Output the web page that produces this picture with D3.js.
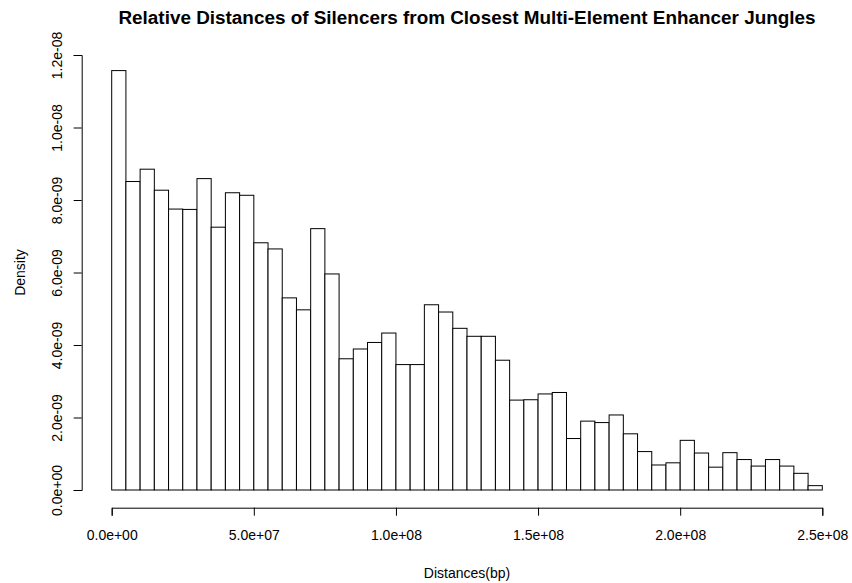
<!DOCTYPE html>
<html>
<head>
<meta charset="utf-8">
<script src="https://cdn.jsdelivr.net/npm/d3@7"></script>
<style>
  body { margin: 0; background: #fff; }
  svg { display: block; font-family: "Liberation Sans", Arial, Helvetica, sans-serif; }
</style>
</head>
<body>
<script>
// histogram of distances, 5e6 bp bins, density values
const binWidth = 5e6;
const density = [
  11.57, 8.51, 8.85, 8.27, 7.75, 7.74, 8.59, 7.25, 8.20, 8.13,
  6.82, 6.65, 5.30, 4.97, 7.21, 5.96, 3.62, 3.89, 4.07, 4.33,
  3.46, 3.46, 5.11, 4.91, 4.46, 4.24, 4.24, 3.58, 2.48, 2.49,
  2.65, 2.69, 1.42, 1.90, 1.86, 2.07, 1.55, 1.06, 0.69, 0.75,
  1.37, 1.02, 0.63, 1.03, 0.84, 0.66, 0.84, 0.66, 0.46, 0.12
].map(d => d * 1e-9);

const xTicks = [0, 5e7, 1e8, 1.5e8, 2e8, 2.5e8];
const xTickLabels = ['0.0e+00', '5.0e+07', '1.0e+08', '1.5e+08', '2.0e+08', '2.5e+08'];
const yTicks = [0, 2e-9, 4e-9, 6e-9, 8e-9, 1e-8, 1.2e-8];
const yTickLabels = ['0.0e+00', '2.0e-09', '4.0e-09', '6.0e-09', '8.0e-09', '1.0e-08', '1.2e-08'];

const title = 'Relative Distances of Silencers from Closest Multi-Element Enhancer Jungles';
const xLabel = 'Distances(bp)';
const yLabel = 'Density';

const svgWidth = 852;
const svgHeight = 583;

const svg = d3.select('body')
  .append('svg')
  .attr('width', svgWidth)
  .attr('height', svgHeight);

const x = d3.scaleLinear().domain([0, 2.5e8]).range([111.7, 822.3]);
const y = d3.scaleLinear().domain([0, 1.2e-8]).range([490, 55]);

// bars
svg.append('g')
  .selectAll('rect')
  .data(density)
  .join('rect')
  .attr('x', (d, i) => x(i * binWidth))
  .attr('y', d => y(d))
  .attr('width', (d, i) => x((i + 1) * binWidth) - x(i * binWidth))
  .attr('height', d => y(0) - y(d))
  .attr('fill', '#fff')
  .attr('stroke', '#000')
  .attr('stroke-width', 1);

// x axis
const xAxis = svg.append('g')
  .attr('transform', 'translate(0, 507.7)')
  .call(d3.axisBottom(x)
    .tickValues(xTicks)
    .tickFormat((d, i) => xTickLabels[i])
    .tickSizeOuter(0)
    .tickSize(8));
xAxis.selectAll('text')
  .attr('y', 32.3)
  .attr('dy', 0)
  .attr('fill', '#000')
  .style('font-size', '14px');

// y axis, labels parallel to the axis like R
const yAxis = svg.append('g')
  .attr('transform', 'translate(81.7, 0)')
  .call(d3.axisLeft(y)
    .tickValues(yTicks)
    .tickFormat((d, i) => yTickLabels[i])
    .tickSizeOuter(0)
    .tickSize(8));
yAxis.selectAll('text')
  .attr('x', null)
  .attr('dy', 0)
  .attr('transform', 'translate(-20, 0) rotate(-90)')
  .attr('text-anchor', 'middle')
  .attr('fill', '#000')
  .style('font-size', '14px');

svg.selectAll('.domain, .tick line').attr('stroke', '#000');

// titles
svg.append('text')
  .attr('x', 467)
  .attr('y', 24)
  .attr('text-anchor', 'middle')
  .style('font-size', '18.9px')
  .style('font-weight', 'bold')
  .text(title);

svg.append('text')
  .attr('x', 467)
  .attr('y', 578)
  .attr('text-anchor', 'middle')
  .style('font-size', '14px')
  .text(xLabel);

svg.append('text')
  .attr('transform', `translate(25, ${(y(0) + y(1.2e-8)) / 2}) rotate(-90)`)
  .attr('text-anchor', 'middle')
  .style('font-size', '14px')
  .text(yLabel);
</script>
</body>
</html>
